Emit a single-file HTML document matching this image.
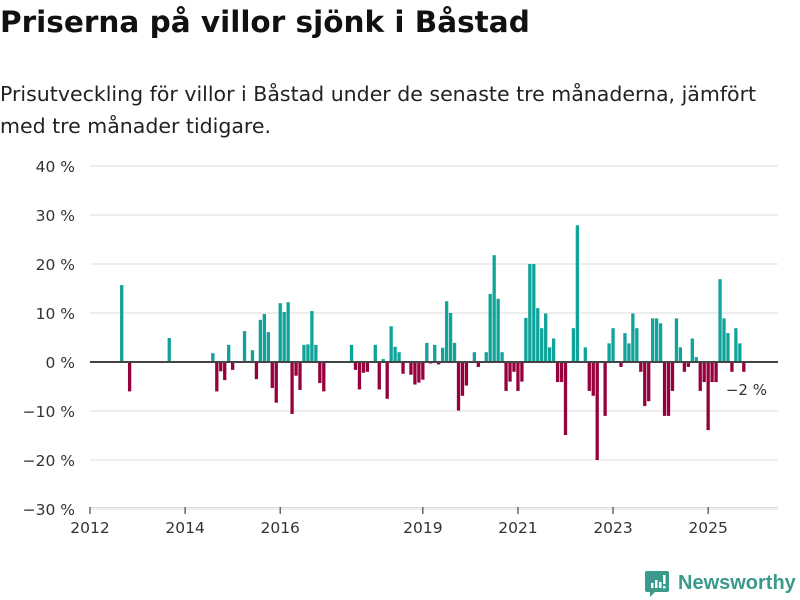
<!DOCTYPE html>
<html><head><meta charset="utf-8">
<style>
body{margin:0;width:800px;height:600px;background:#fff;overflow:hidden;font-family:"Liberation Sans","DejaVu Sans",sans-serif;}
#title{position:absolute;left:0;top:5px;font-family:"DejaVu Sans",sans-serif;font-size:29.5px;font-weight:bold;color:#111;margin:0;letter-spacing:0px;white-space:nowrap}
#sub{position:absolute;left:0;top:78px;font-family:"DejaVu Sans",sans-serif;font-size:20.5px;line-height:32px;color:#222;width:800px;white-space:nowrap}
svg{position:absolute;left:0;top:0}
</style></head><body>
<h1 id="title">Priserna på villor sjönk i Båstad</h1>
<div id="sub">Prisutveckling för villor i Båstad under de senaste tre månaderna, jämfört<br>med tre månader tidigare.</div>
<svg id="chart" width="800" height="600"></svg>
<script>
const months=["2012-09","2012-11","2013-09","2014-08","2014-09","2014-10","2014-11","2014-12","2015-01","2015-04","2015-06","2015-07","2015-08","2015-09","2015-10","2015-11","2015-12","2016-01","2016-02","2016-03","2016-04","2016-05","2016-06","2016-07","2016-08","2016-09","2016-10","2016-11","2016-12","2017-07","2017-08","2017-09","2017-10","2017-11","2018-01","2018-02","2018-03","2018-04","2018-05","2018-06","2018-07","2018-08","2018-10","2018-11","2018-12","2019-01","2019-02","2019-03","2019-04","2019-05","2019-06","2019-07","2019-08","2019-09","2019-10","2019-11","2019-12","2020-02","2020-03","2020-05","2020-06","2020-07","2020-08","2020-09","2020-10","2020-11","2020-12","2021-01","2021-02","2021-03","2021-04","2021-05","2021-06","2021-07","2021-08","2021-09","2021-10","2021-11","2021-12","2022-01","2022-03","2022-04","2022-06","2022-07","2022-08","2022-09","2022-11","2022-12","2023-01","2023-03","2023-04","2023-05","2023-06","2023-07","2023-08","2023-09","2023-10","2023-11","2023-12","2024-01","2024-02","2024-03","2024-04","2024-05","2024-06","2024-07","2024-08","2024-09","2024-10","2024-11","2024-12","2025-01","2025-02","2025-03","2025-04","2025-05","2025-06","2025-07","2025-08","2025-09","2025-10"];
const values=[15.7,-6,4.9,1.8,-6,-1.9,-3.7,3.5,-1.6,6.3,2.4,-3.5,8.6,9.8,6.1,-5.3,-8.3,12,10.2,12.2,-10.6,-2.8,-5.7,3.5,3.6,10.4,3.5,-4.3,-6,3.5,-1.6,-5.6,-2.2,-2.0,3.5,-5.6,0.6,-7.5,7.3,3.1,2.0,-2.4,-2.6,-4.6,-4.2,-3.6,3.9,-0.3,3.5,-0.5,2.9,12.4,10,3.9,-9.9,-6.9,-4.8,2.0,-1.0,2.0,13.9,21.8,12.9,2.0,-5.9,-4.0,-2.0,-5.9,-4.0,9.0,20,20,11,6.9,9.9,3.0,4.8,-4.1,-4.1,-14.9,6.9,27.9,3.0,-5.9,-6.9,-20,-11,3.8,6.9,-1.0,5.9,3.8,9.9,6.9,-2.0,-9,-8,8.9,8.9,7.9,-11,-11,-5.9,8.9,3.0,-2,-1,4.8,1.0,-5.9,-4.1,-13.9,-4.1,-4.1,16.9,8.9,5.9,-2,6.9,3.8,-2];
const yTicks=[-30,-20,-10,0,10,20,30,40];
const yTickLabels=["−30 %","−20 %","−10 %","0 %","10 %","20 %","30 %","40 %"];
const xTicks=[2012,2014,2016,2019,2021,2023,2025];

const NS="http://www.w3.org/2000/svg";
const svg=document.getElementById('chart');
const X0=90, PXM=47.55/12;
function xScale(m){const p=m.split('-');return X0+((+p[0]-2012)*12+(+p[1]-1))*PXM;}
function xYear(y){return X0+(y-2012)*12*PXM;}
function yScale(v){return 362-v*4.9;}
function mk(tag,attrs){const e=document.createElementNS(NS,tag);for(const k in attrs)e.setAttribute(k,attrs[k]);svg.appendChild(e);return e;}

yTicks.forEach((t,i)=>{
  if(t!==0){const g=mk('line',{x1:90,x2:778,y1:yScale(t),y2:yScale(t),stroke:'#dddddd','stroke-width':1});
  
  }
  const tx=mk('text',{x:75,y:yScale(t)+6,'text-anchor':'end','font-size':15.5,fill:'#333','font-family':'DejaVu Sans, sans-serif'});
  tx.textContent=yTickLabels[i];
  
  
});
const ax=mk('line',{x1:90,x2:778,y1:507.5,y2:507.5,stroke:'#dddddd','stroke-width':1});


xTicks.forEach(y=>{
  const tk=mk('line',{x1:xYear(y),x2:xYear(y),y1:507,y2:514,stroke:'#444','stroke-width':1.2});
  
  
  const tx=mk('text',{x:xYear(y),y:533,'text-anchor':'middle','font-size':15.5,fill:'#333','font-family':'DejaVu Sans, sans-serif'});
  tx.textContent=y;
  
  
});
months.forEach((m,i)=>{
  const v=values[i];const cx=xScale(m);
  const y1=yScale(Math.max(v,0)), y2=yScale(Math.min(v,0));
  const r=mk('rect',{x:cx-1.65,y:y1,width:3.3,height:Math.max(y2-y1,0.5),fill:v>=0?'#0fa39a':'#96003c'});
  
  
});
const zl=mk('line',{x1:90,x2:778,y1:362,y2:362,stroke:'#444','stroke-width':2});


const last=months.length-1;
const lb=mk('text',{x:xScale(months[last])-18,y:yScale(values[last])+23,'font-size':15,fill:'#333','font-family':'DejaVu Sans, sans-serif'});
lb.textContent='−2 %';


</script>
<svg width="800" height="600" style="position:absolute;left:0;top:0;pointer-events:none">
  <path d="M647 571 h20 a2 2 0 0 1 2 2 v17 a2 2 0 0 1 -2 2 h-12 l-5 5 v-5 h-3 a2 2 0 0 1 -2 -2 v-17 a2 2 0 0 1 2 -2z" fill="#3a9a8c"/>
  <rect x="651" y="583" width="2.5" height="5" fill="#fff"/><rect x="655" y="580" width="2.5" height="8" fill="#fff"/><rect x="659" y="582" width="2.5" height="6" fill="#fff"/><rect x="663" y="575" width="2.5" height="9" fill="#fff"/><rect x="663" y="586" width="2.5" height="2.5" fill="#fff"/>
  <text x="678" y="589" font-size="20" font-weight="bold" fill="#3a9a8c" font-family="Liberation Sans, sans-serif">Newsworthy</text>
</svg>
</body></html>
